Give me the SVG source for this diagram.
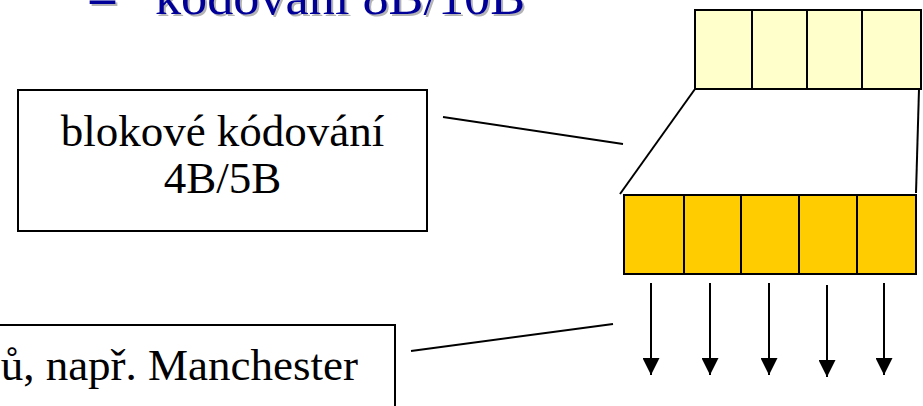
<svg xmlns="http://www.w3.org/2000/svg" width="923" height="406" viewBox="0 0 923 406">
  <style>
    .lbl { font-family: "Liberation Serif", "Times New Roman", serif; font-size: 45px; fill: #000; }
    .ttl { font-family: "Liberation Serif", "Times New Roman", serif; font-size: 50px; fill: #000099; }
    .sh { fill: #b4b4b4; }
    .box { fill: #fff; stroke: #000; stroke-width: 2; }
    .cellY { fill: #ffffcc; stroke: #000; stroke-width: 2; }
    .cellO { fill: #ffcc00; stroke: #000; stroke-width: 2; }
    .ln { stroke: #000; stroke-width: 2; fill: none; }
  </style>
  <defs>
    <marker id="ah" viewBox="0 0 17 17" refX="17" refY="8.5" markerWidth="17" markerHeight="17" markerUnits="userSpaceOnUse" orient="auto">
      <path d="M0,0 L17,8.5 L0,17 Z" fill="#000"/>
    </marker>
  </defs>

  <g id="title">
    <text class="ttl sh" x="92" y="16" font-weight="bold">–</text>
    <text class="ttl" x="90" y="14" font-weight="bold">–</text>
    <text class="ttl sh" x="157" y="16" textLength="370" lengthAdjust="spacingAndGlyphs">kódování 8B/10B</text>
    <text class="ttl" x="155" y="14" textLength="370" lengthAdjust="spacingAndGlyphs">kódování 8B/10B</text>
  </g>

  <g id="block-label">
    <rect class="box" x="18" y="90" width="409" height="141"/>
    <text class="lbl" x="222.5" y="146" text-anchor="middle">blokové kódování</text>
    <text class="lbl" x="222.5" y="193" text-anchor="middle">4B/5B</text>
  </g>

  <g id="line-label">
    <rect class="box" x="-20" y="325" width="415" height="100"/>
    <text class="lbl" x="358" y="380" text-anchor="end">ů, např. Manchester</text>
  </g>

  <g id="input-4b">
    <rect class="cellY" x="695" y="10" width="57" height="79"/>
    <rect class="cellY" x="752" y="10" width="55" height="79"/>
    <rect class="cellY" x="807" y="10" width="55" height="79"/>
    <rect class="cellY" x="862" y="10" width="59" height="79"/>
  </g>

  <g id="output-5b">
    <rect class="cellO" x="624" y="195" width="60" height="79"/>
    <rect class="cellO" x="684" y="195" width="57" height="79"/>
    <rect class="cellO" x="741" y="195" width="58" height="79"/>
    <rect class="cellO" x="799" y="195" width="58" height="79"/>
    <rect class="cellO" x="857" y="195" width="59" height="79"/>
  </g>

  <g id="connectors">
    <line class="ln" x1="695" y1="89" x2="620" y2="194"/>
    <line class="ln" x1="919" y1="89" x2="916" y2="193"/>
    <line class="ln" x1="443" y1="117" x2="623" y2="144"/>
    <line class="ln" x1="411" y1="351" x2="613" y2="324"/>
    <line class="ln" x1="651" y1="283" x2="651" y2="375" marker-end="url(#ah)"/>
    <line class="ln" x1="710" y1="283" x2="710" y2="375" marker-end="url(#ah)"/>
    <line class="ln" x1="769" y1="283" x2="769" y2="375" marker-end="url(#ah)"/>
    <line class="ln" x1="827" y1="285" x2="827" y2="377" marker-end="url(#ah)"/>
    <line class="ln" x1="884" y1="283" x2="884" y2="375" marker-end="url(#ah)"/>
  </g>
</svg>
